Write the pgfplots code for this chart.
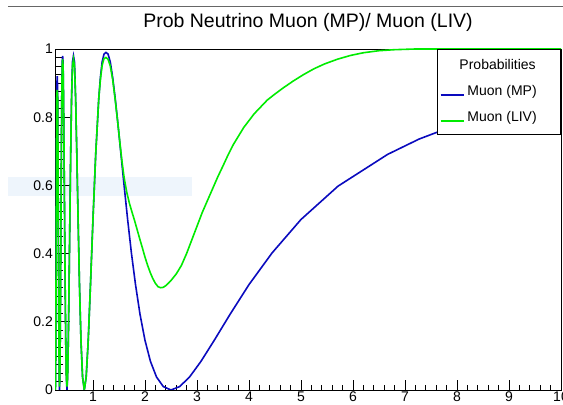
\documentclass[border=0pt]{standalone}
\usepackage{fontspec}
\setmainfont{Liberation Sans}
\usepackage{pgfplots}
\pgfplotsset{compat=1.18}
\definecolor{mpblue}{RGB}{10,10,190}
\definecolor{livgreen}{RGB}{0,235,0}
\definecolor{tipbg}{RGB}{238,245,252}

\begin{document}
\begin{tikzpicture}
% page = 563 x 405 bp, axis box south west corner at (0,0)
\useasboundingbox (-55bp,-15bp) rectangle (508bp,390bp);
\fill[tipbg] (-47bp,194bp) rectangle (137bp,213bp);
\draw[black!60, line width=1bp] (-47bp,383.5bp) -- (508bp,383.5bp);
\begin{axis}[
  width=506bp, height=341bp, scale only axis,
  xmin=0.27, xmax=10, ymin=0, ymax=1,
  xtick={1,2,...,10}, ytick={0,0.2,0.4,0.6,0.8,1},
  yticklabels={0,0.2,0.4,0.6,0.8,1},
  minor x tick num=4, minor y tick num=7,
  tick align=inside, xtick pos=bottom, ytick pos=left,
  xtick style={black, line width=0.7bp, /pgfplots/major tick length=10bp, /pgfplots/minor tick length=5bp},
  ytick style={black, line width=0.7bp, /pgfplots/major tick length=15bp, /pgfplots/minor tick length=7.5bp},
  axis line style={line width=0.8bp},
  /pgf/number format/assume math mode=true,
  ticklabel style={font=\fontsize{14bp}{16bp}\selectfont},
  xticklabel style={inner sep=2bp},
  yticklabel style={inner sep=2bp},
  legend style={at={(1,1)}, anchor=north east, draw=black, fill=white,
    line width=0.6bp,
    font=\fontsize{14bp}{16bp}\selectfont,
    inner xsep=2bp, inner ysep=8bp, row sep=9bp, column sep=1bp,
    nodes={inner sep=2bp, text height=10bp, text depth=3bp}},
  legend cell align=left,
  legend image code/.code={\draw[#1] (0bp,-3bp) -- (23bp,-3bp);},
  legend image post style={line width=1.8bp},
]
\addlegendimage{empty legend}
\addlegendentry{\hspace*{-8bp}Probabilities}

\addplot[mpblue, line width=1.6bp] coordinates {
(0.2703,0.146) (0.2740,0.038) (0.2778,0) (0.2817,0.038) (0.2857,0.146)
(0.2899,0.309) (0.2941,0.5) (0.2985,0.691) (0.3030,0.854) (0.3077,0.90)
(0.3125,0.92) (0.3175,0.90) (0.3226,0.854) (0.3279,0.691) (0.3333,0.5)
(0.3390,0.309) (0.3448,0.146) (0.3509,0.038) (0.3571,0) (0.3636,0.038)
(0.3704,0.146) (0.3774,0.309) (0.3846,0.5) (0.3922,0.691) (0.4000,0.854)
(0.4082,0.962) (0.4167,0.98) (0.4255,0.962) (0.4348,0.854) (0.4444,0.691)
(0.4545,0.5) (0.4651,0.309) (0.4762,0.146) (0.4878,0.038) (0.5000,0)
(0.5128,0.038) (0.5263,0.146) (0.5405,0.309) (0.5556,0.5) (0.5714,0.691)
(0.5882,0.854) (0.6061,0.962) (0.6250,0.98) (0.6452,0.962) (0.6667,0.854)
(0.6897,0.691) (0.7143,0.5) (0.7407,0.309) (0.7692,0.146) (0.8000,0.038)
(0.8333,0) (0.8696,0.038) (0.9091,0.146) (0.9524,0.309) (1.0000,0.5)
(1.0526,0.691) (1.1111,0.854) (1.1429,0.916) (1.1765,0.962) (1.2121,0.985)
(1.2500,0.99) (1.2903,0.985) (1.3333,0.962) (1.3793,0.916) (1.4286,0.854)
(1.4815,0.778) (1.5385,0.691) (1.6000,0.598) (1.6667,0.5) (1.7391,0.402)
(1.8182,0.309) (1.9048,0.222) (2.0000,0.146) (2.1053,0.084) (2.2222,0.038)
(2.3529,0.010) (2.5000,0) (2.6667,0.010) (2.8571,0.038) (3.0769,0.084)
(3.3333,0.146) (3.6364,0.222) (4.0000,0.309) (4.4444,0.402) (5.0000,0.5)
(5.7143,0.598) (6.6667,0.691) (7.2727,0.736) (8.0000,0.778) (8.8889,0.817)
(10.000,0.854)
};
\addlegendentry{Muon (MP)\hspace*{20bp}}

\addplot[livgreen, line width=1.6bp] coordinates {
(0.2703,0.146) (0.2740,0.038) (0.2778,0) (0.2817,0.038) (0.2857,0.146)
(0.2899,0.309) (0.2941,0.5) (0.2985,0.691) (0.3030,0.854) (0.3077,0.87)
(0.3125,0.88) (0.3175,0.87) (0.3226,0.854) (0.3279,0.691) (0.3333,0.5)
(0.3390,0.309) (0.3448,0.146) (0.3509,0.038) (0.3571,0.01) (0.3636,0.038)
(0.3704,0.146) (0.3774,0.309) (0.3846,0.5) (0.3922,0.691) (0.4000,0.854)
(0.4082,0.95) (0.4167,0.97) (0.4255,0.95) (0.4348,0.854) (0.4444,0.691)
(0.4545,0.5) (0.4651,0.309) (0.4762,0.146) (0.4878,0.038) (0.5000,0.01)
(0.5128,0.038) (0.5263,0.146) (0.5405,0.309) (0.5556,0.5) (0.5714,0.691)
(0.5882,0.854) (0.6061,0.95) (0.6250,0.97) (0.6452,0.95) (0.6667,0.854)
(0.6897,0.691) (0.7143,0.5) (0.7407,0.309) (0.7692,0.146) (0.8000,0.038)
(0.8333,0) (0.8696,0.038) (0.9091,0.146) (0.9524,0.309) (1.0000,0.5)
(1.0526,0.691) (1.1111,0.854) (1.1429,0.91) (1.1765,0.952) (1.2121,0.972)
(1.2500,0.975) (1.2903,0.970) (1.3333,0.950) (1.3793,0.910) (1.4286,0.850)
(1.4815,0.778) (1.5200,0.722) (1.5600,0.668) (1.6000,0.622) (1.6500,0.580)
(1.7000,0.548) (1.7500,0.522) (1.8000,0.497) (1.8500,0.470) (1.9000,0.443)
(1.9500,0.417) (2.0000,0.390) (2.0500,0.366) (2.1000,0.345) (2.1500,0.327)
(2.2000,0.313) (2.2500,0.303) (2.3000,0.300) (2.3500,0.301) (2.4000,0.306)
(2.4500,0.313) (2.5000,0.321) (2.6000,0.340) (2.7000,0.365) (2.8000,0.400)
(2.9000,0.440) (3.0000,0.480) (3.1000,0.520) (3.2000,0.555) (3.3000,0.590)
(3.4000,0.625) (3.5000,0.657) (3.6000,0.690) (3.7000,0.720) (3.8000,0.745)
(3.9000,0.770) (4.0000,0.790) (4.1000,0.810) (4.2000,0.826) (4.3500,0.850)
(4.5000,0.868) (4.6500,0.885) (4.8500,0.906) (5.0500,0.925) (5.2500,0.942)
(5.4500,0.956) (5.7000,0.970) (5.9500,0.981) (6.2000,0.989) (6.5000,0.995)
(6.8000,0.998) (7.2000,1.000) (8.0000,1.000) (10.000,1.000)
};
\addlegendentry{Muon (LIV)}
\end{axis}
\node[font=\fontsize{19.5bp}{22bp}\selectfont] at (253bp,368bp) {Prob Neutrino Muon (MP)/ Muon (LIV)};
\end{tikzpicture}
\end{document}
